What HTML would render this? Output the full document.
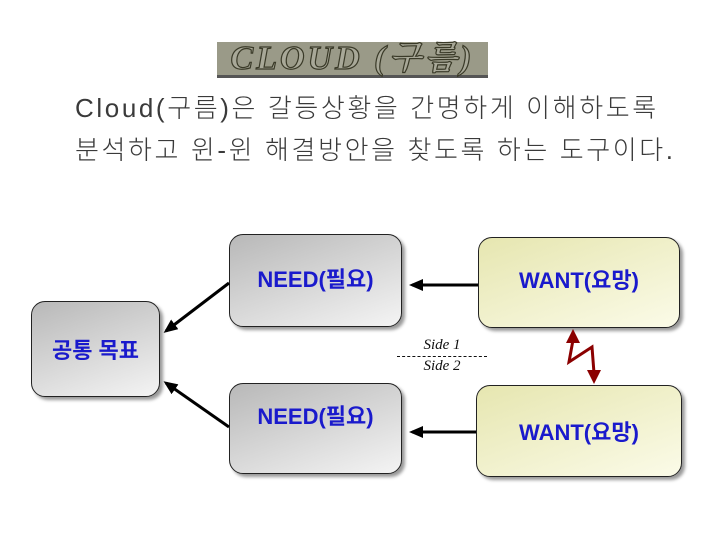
<!DOCTYPE html>
<html><head><meta charset="utf-8"><style>
body{margin:0;width:720px;height:540px;background:#fff;position:relative;overflow:hidden;font-family:"Liberation Sans","Noto Sans CJK KR",sans-serif}
.t{position:absolute;left:75px;font-size:26px;color:#3a3a3a;letter-spacing:2.6px;white-space:nowrap;font-weight:300}
.b{position:absolute;border:1.5px solid #222;border-radius:14px;box-shadow:3px 3px 3px #999;display:flex;align-items:center;justify-content:center;color:#1a1acc;font-weight:bold;font-size:22px;box-sizing:border-box}
.g{background:linear-gradient(160deg,#b8b8b8,#f4f4f4)}
.y{background:linear-gradient(160deg,#e6e6b0,#fbfbe8)}
</style></head><body>
<div style="position:absolute;left:217px;top:42px;width:271px;height:36px;background:#9a9a88;border-bottom:3px solid #555;box-sizing:border-box;text-align:center;font-family:'Liberation Serif','Noto Serif CJK SC',serif;font-size:34px;font-style:italic;font-weight:bold;color:#a8a898;-webkit-text-stroke:1.2px #3a3a28;line-height:34px;letter-spacing:3px">CLOUD (구름)</div>
<div class="t" style="top:88px">Cloud(구름)은 갈등상황을 간명하게 이해하도록</div>
<div class="t" style="top:130px">분석하고 윈-윈 해결방안을 찾도록 하는 도구이다.</div>
<div class="b g" style="left:31px;top:301px;width:129px;height:96px">공통 목표</div>
<div class="b g" style="left:229px;top:234px;width:173px;height:93px;padding-bottom:6px">NEED(필요)</div>
<div class="b g" style="left:229px;top:383px;width:173px;height:91px;padding-bottom:28px">NEED(필요)</div>
<div class="b y" style="left:478px;top:237px;width:202px;height:91px;padding-bottom:8px">WANT(요망)</div>
<div class="b y" style="left:476px;top:385px;width:206px;height:92px;padding-bottom:0">WANT(요망)</div>
<div style="position:absolute;left:397px;top:336px;width:90px;text-align:center;font-family:'Liberation Serif',serif;font-style:italic;font-size:15px;line-height:19px;color:#111">Side 1<div style="border-top:1px dashed #111;margin-top:1px"></div>Side 2</div>
<svg width="720" height="540" style="position:absolute;left:0;top:0">
<defs><marker id="a" markerWidth="14" markerHeight="12" refX="11" refY="6" orient="auto" markerUnits="userSpaceOnUse"><path d="M0,0L14,6L0,12z" fill="#000"/></marker></defs>
<g stroke="#000" stroke-width="3" fill="none">
<line x1="229" y1="283" x2="166" y2="331" marker-end="url(#a)"/>
<line x1="229" y1="427" x2="166" y2="383" marker-end="url(#a)"/>
<line x1="478" y1="285" x2="412" y2="285" marker-end="url(#a)"/>
<line x1="476" y1="432" x2="412" y2="432" marker-end="url(#a)"/>
</g>
<polyline points="573,340 569,362 592,347 594,373" stroke="#8b0000" stroke-width="3" fill="none"/>
<path d="M573,329L566,343L580,343z" fill="#8b0000"/>
<path d="M594,384L587,370L601,370z" fill="#8b0000"/>
</svg>
</body></html>
